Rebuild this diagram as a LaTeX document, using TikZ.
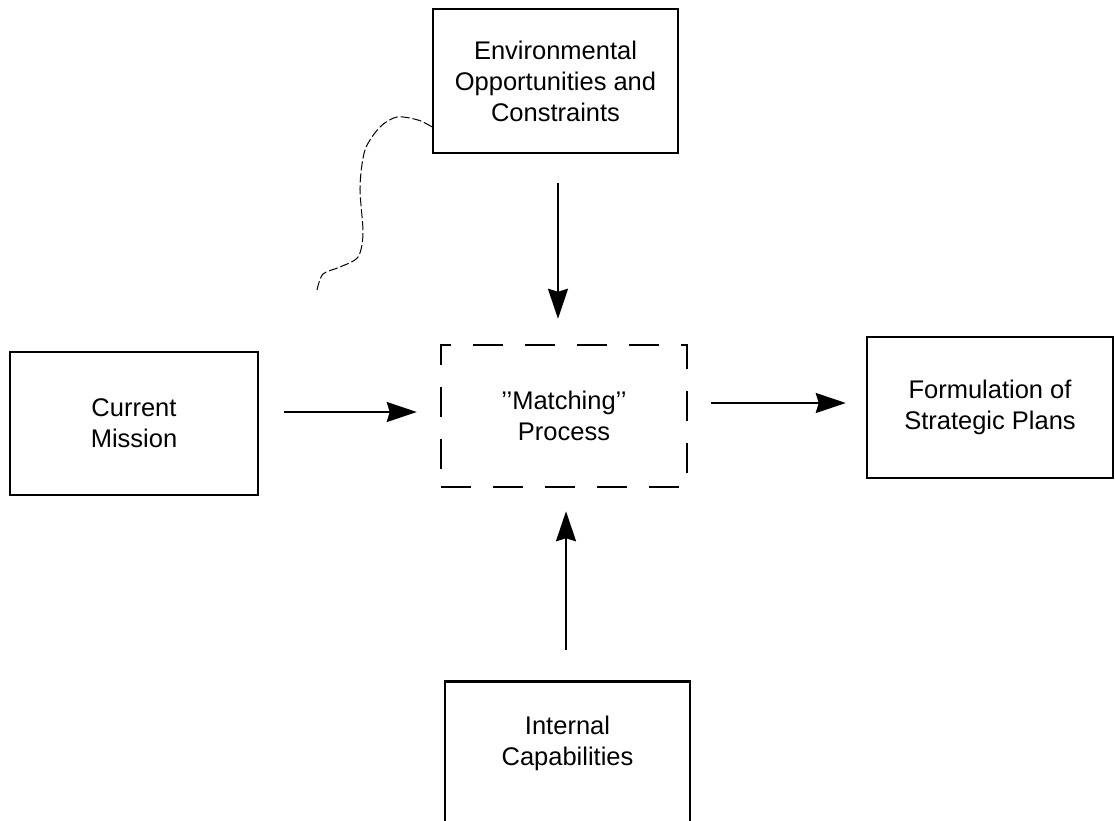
\documentclass[tikz,border=0pt]{standalone}
\usepackage{fontspec}
\setmainfont{Liberation Sans}
\usetikzlibrary{arrows.meta}
\begin{document}
\begin{tikzpicture}[x=1pt,y=-1pt,
  box/.style={draw=black, line width=2.5pt, minimum width=246pt, minimum height=143pt,
    align=center, font=\fontsize{25.5}{31}\selectfont, inner sep=0pt},
  dbox/.style={box, dash pattern=on 30pt off 22pt},
  txt/.style={align=center, font=\fontsize{25.5}{31}\selectfont, inner sep=0pt},
  arr/.style={line width=2.2pt, -{Stealth[length=30pt,width=20pt,inset=3pt]}},
  squig/.style={line width=1pt, dash pattern=on 9pt off 3pt}]
\useasboundingbox[fill=white] (0,0) rectangle (1115,820);
\node[box, minimum width=245pt, minimum height=144pt] (env) at (555.5,81) {Environmental\\Opportunities and\\Constraints};
\node[box, minimum width=248pt] (cur) at (134,423.5) {Current\\Mission};
\node[dbox, minimum height=142pt] (match) at (564,416) {\symbol{"27}\symbol{"27}Matching\symbol{"27}\symbol{"27}\\Process};
\node[box, minimum height=141pt] (form) at (990,407.5) {Formulation of\\Strategic Plans};
\node[box, minimum width=245pt, minimum height=146pt, anchor=north] (int) at (567.5,680) {};
\node[txt] (inttext) at (567.5,743) {Internal\\Capabilities};
\draw[arr] ([xshift=2.5pt,yshift=-29pt]env.south) -- ([xshift=-6pt,yshift=25pt]match.north);
\draw[arr] ([xshift=25pt,yshift=11.5pt]cur.east) -- ([xshift=-23pt,yshift=4pt]match.west);
\draw[arr] ([xshift=23pt,yshift=13pt]match.east) -- ([xshift=-20pt,yshift=4.5pt]form.west);
\draw[arr] ([xshift=-1.5pt,yshift=30pt]int.north) -- ([xshift=2pt,yshift=-23pt]match.south);
\coordinate (sqs) at ([yshift=-119pt]env.north west);
\draw[squig] plot[smooth] coordinates {(sqs) (418,120) (397,117) (380,127) (365,150) (360,187) (363,233) (358,257) (340,267) (323,274) (317,290)};
\end{tikzpicture}
\end{document}
